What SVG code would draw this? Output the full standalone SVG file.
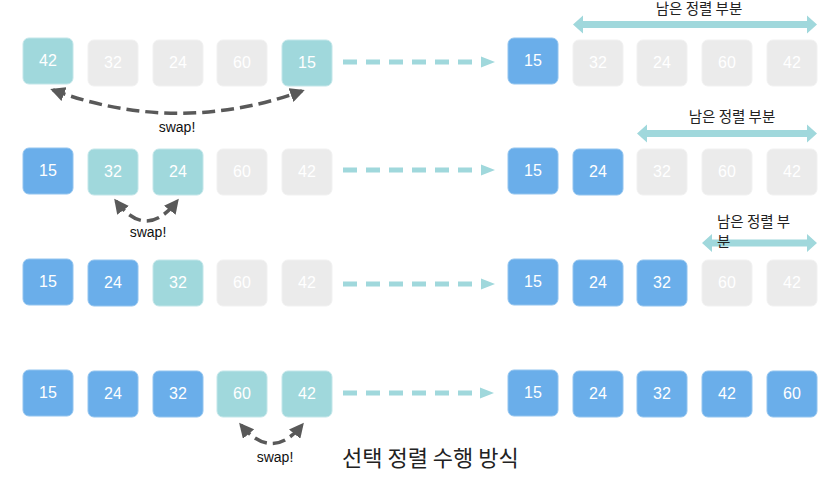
<svg xmlns="http://www.w3.org/2000/svg" width="836" height="477" viewBox="0 0 836 477">
<style>
.b rect{rx:6;ry:6;stroke-width:1}
.t rect{fill:#a0d8dc;stroke:#c2e6e9}
.u rect{fill:#6aaeea;stroke:#92c4ef}
.g rect{fill:#ebebeb;stroke:#f1f1f1}
.b text{font-family:"Liberation Sans",Arial,sans-serif;font-size:16px;fill:#ffffff;text-anchor:middle}
.dash{stroke:#a0d8dc;stroke-width:5;stroke-dasharray:14 9;fill:none}
.head{fill:#a0d8dc}
.swap{stroke:#595959;stroke-width:3.5;stroke-dasharray:13 6;fill:none}
.lbl{font-family:"Liberation Sans",Arial,sans-serif;font-size:14px;fill:#111;text-anchor:middle}
.kr{font-family:"Noto Sans CJK KR","Liberation Sans",sans-serif;font-size:14.5px;fill:#222}
.dbl{fill:#a0d8dc}
</style>
<defs>
<marker id="ah" viewBox="0 0 10 10" refX="8" refY="5" markerWidth="4.2" markerHeight="4.2" orient="auto-start-reverse" markerUnits="strokeWidth">
<path d="M0,0 L10,5 L0,10 z" fill="#595959"/>
</marker>
</defs>

<!-- Row 1 left -->
<g id="r1l1" class="b t"><rect x="23" y="38" width="50" height="46"/><text x="48" y="66">42</text></g>
<g id="r1l2" class="b g"><rect x="88" y="40" width="50" height="46"/><text x="113" y="68">32</text></g>
<g id="r1l3" class="b g"><rect x="153" y="40" width="50" height="46"/><text x="178" y="68">24</text></g>
<g id="r1l4" class="b g"><rect x="217" y="40" width="50" height="46"/><text x="242" y="68">60</text></g>
<g id="r1l5" class="b t"><rect x="282" y="40" width="50" height="46"/><text x="307" y="68">15</text></g>
<!-- Row 1 right -->
<g id="r1r1" class="b u"><rect x="508" y="38" width="50" height="46"/><text x="533" y="66">15</text></g>
<g id="r1r2" class="b g"><rect x="573" y="40" width="50" height="46"/><text x="598" y="68">32</text></g>
<g id="r1r3" class="b g"><rect x="637" y="40" width="50" height="46"/><text x="662" y="68">24</text></g>
<g id="r1r4" class="b g"><rect x="702" y="40" width="50" height="46"/><text x="727" y="68">60</text></g>
<g id="r1r5" class="b g"><rect x="767" y="40" width="50" height="46"/><text x="792" y="68">42</text></g>

<!-- Row 2 left -->
<g id="r2l1" class="b u"><rect x="23" y="148" width="50" height="46"/><text x="48" y="176">15</text></g>
<g id="r2l2" class="b t"><rect x="88" y="149" width="50" height="46"/><text x="113" y="177">32</text></g>
<g id="r2l3" class="b t"><rect x="153" y="149" width="50" height="46"/><text x="178" y="177">24</text></g>
<g id="r2l4" class="b g"><rect x="217" y="149" width="50" height="46"/><text x="242" y="177">60</text></g>
<g id="r2l5" class="b g"><rect x="282" y="149" width="50" height="46"/><text x="307" y="177">42</text></g>
<!-- Row 2 right -->
<g id="r2r1" class="b u"><rect x="508" y="148" width="50" height="46"/><text x="533" y="176">15</text></g>
<g id="r2r2" class="b u"><rect x="573" y="149" width="50" height="46"/><text x="598" y="177">24</text></g>
<g id="r2r3" class="b g"><rect x="637" y="149" width="50" height="46"/><text x="662" y="177">32</text></g>
<g id="r2r4" class="b g"><rect x="702" y="149" width="50" height="46"/><text x="727" y="177">60</text></g>
<g id="r2r5" class="b g"><rect x="767" y="149" width="50" height="46"/><text x="792" y="177">42</text></g>

<!-- Row 3 left -->
<g id="r3l1" class="b u"><rect x="23" y="259" width="50" height="46"/><text x="48" y="287">15</text></g>
<g id="r3l2" class="b u"><rect x="88" y="260" width="50" height="46"/><text x="113" y="288">24</text></g>
<g id="r3l3" class="b t"><rect x="153" y="260" width="50" height="46"/><text x="178" y="288">32</text></g>
<g id="r3l4" class="b g"><rect x="217" y="260" width="50" height="46"/><text x="242" y="288">60</text></g>
<g id="r3l5" class="b g"><rect x="282" y="260" width="50" height="46"/><text x="307" y="288">42</text></g>
<!-- Row 3 right -->
<g id="r3r1" class="b u"><rect x="508" y="259" width="50" height="46"/><text x="533" y="287">15</text></g>
<g id="r3r2" class="b u"><rect x="573" y="260" width="50" height="46"/><text x="598" y="288">24</text></g>
<g id="r3r3" class="b u"><rect x="637" y="260" width="50" height="46"/><text x="662" y="288">32</text></g>
<g id="r3r4" class="b g"><rect x="702" y="260" width="50" height="46"/><text x="727" y="288">60</text></g>
<g id="r3r5" class="b g"><rect x="767" y="260" width="50" height="46"/><text x="792" y="288">42</text></g>

<!-- Row 4 left -->
<g id="r4l1" class="b u"><rect x="23" y="370" width="50" height="46"/><text x="48" y="398">15</text></g>
<g id="r4l2" class="b u"><rect x="88" y="371" width="50" height="46"/><text x="113" y="399">24</text></g>
<g id="r4l3" class="b u"><rect x="153" y="371" width="50" height="46"/><text x="178" y="399">32</text></g>
<g id="r4l4" class="b t"><rect x="217" y="371" width="50" height="46"/><text x="242" y="399">60</text></g>
<g id="r4l5" class="b t"><rect x="282" y="371" width="50" height="46"/><text x="307" y="399">42</text></g>
<!-- Row 4 right -->
<g id="r4r1" class="b u"><rect x="508" y="370" width="50" height="46"/><text x="533" y="398">15</text></g>
<g id="r4r2" class="b u"><rect x="573" y="371" width="50" height="46"/><text x="598" y="399">24</text></g>
<g id="r4r3" class="b u"><rect x="637" y="371" width="50" height="46"/><text x="662" y="399">32</text></g>
<g id="r4r4" class="b u"><rect x="702" y="371" width="50" height="46"/><text x="727" y="399">42</text></g>
<g id="r4r5" class="b u"><rect x="767" y="371" width="50" height="46"/><text x="792" y="399">60</text></g>

<g id="connectors">
<line class="dash" x1="343" y1="62" x2="480" y2="62"/>
<polygon class="head" points="481,56.5 495,62 481,67.5"/>
<line class="dash" x1="343" y1="170" x2="480" y2="170"/>
<polygon class="head" points="481,164.5 495,170 481,175.5"/>
<line class="dash" x1="343" y1="284" x2="480" y2="284"/>
<polygon class="head" points="481,278.5 495,284 481,289.5"/>
<line class="dash" x1="343" y1="393" x2="480" y2="393"/>
<polygon class="head" points="480,387.5 494,393 480,398.5"/>

<path class="swap" d="M53,90 Q177,136 302,91" marker-start="url(#ah)" marker-end="url(#ah)"/>
<path class="swap" d="M116,201 Q146,241 177,201" marker-start="url(#ah)" marker-end="url(#ah)"/>
<path class="swap" d="M241,425 Q272,462 302,425" marker-start="url(#ah)" marker-end="url(#ah)"/>

<polygon class="dbl" points="573,24.5 583,15.5 583,21 807,21 807,15.5 817,24.5 807,33.5 807,28 583,28 583,33.5"/>
<polygon class="dbl" points="637,133.5 647,124.5 647,130 807,130 807,124.5 817,133.5 807,142.5 807,137 647,137 647,142.5"/>
<polygon class="dbl" points="702,243 712,234 712,239.5 807,239.5 807,234 817,243 807,252 807,246.5 712,246.5 712,252"/>
</g>

<text class="lbl" x="177" y="132">swap!</text>
<text class="lbl" x="148" y="237">swap!</text>
<text class="lbl" x="275" y="462">swap!</text>

<text class="kr" x="699" y="14" text-anchor="middle">남은 정렬 부분</text>
<text class="kr" x="732" y="122" text-anchor="middle">남은 정렬 부분</text>
<text class="kr" x="717" y="227">남은 정렬 부</text>
<text class="kr" x="717" y="247">분</text>

<text x="342" y="466" style="font-family:'Noto Sans CJK KR','Liberation Sans',sans-serif;font-size:22px;fill:#222">선택 정렬 수행 방식</text>
</svg>
